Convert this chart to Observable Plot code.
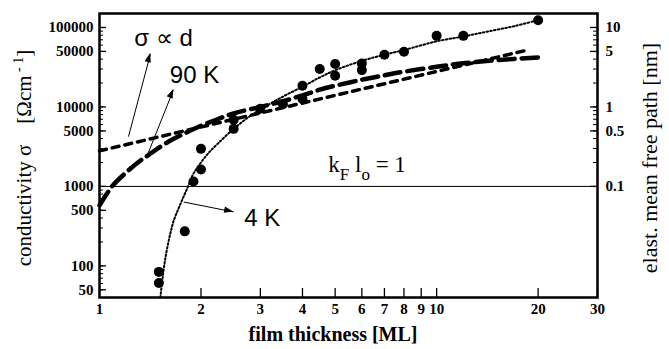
<!DOCTYPE html>
<html><head><meta charset="utf-8">
<script src="https://cdn.jsdelivr.net/npm/d3@7"></script>
<script src="https://cdn.jsdelivr.net/npm/@observablehq/plot@0.6"></script>
<style>
body{margin:0;background:#fff;}
#chart{width:669px;height:349px;}
</style></head><body><div id="chart"></div>
<script>
// 4 K measured points (film thickness [ML], conductivity [Ω^-1 cm^-1])
const dots4K_d = [1.5, 1.5, 1.79, 1.9, 2, 2, 2.5, 2.5, 3, 3.5, 4, 4, 4.5, 5, 5, 6, 6, 7, 8, 10, 12, 20];
const dots4K_s = [84, 61, 272, 1155, 2970, 1630, 5300, 6900, 9500, 10800, 18500, 12600, 30000, 34700, 24700, 35200, 29100, 45300, 49400, 78500, 78500, 123600];
// 4 K fit (dotted)
const fit4K_d = [1.515, 1.55, 1.58, 1.62, 1.66, 1.72, 1.78, 1.84, 1.9, 2.0, 2.1, 2.25, 2.5, 2.75, 3, 3.5, 4, 4.5, 5, 6, 7, 8, 10, 12, 14, 17, 20];
const fit4K_s = [40, 90, 150, 250, 370, 540, 760, 1050, 1450, 2000, 2600, 3500, 5300, 7300, 9300, 13500, 18000, 23500, 29000, 38000, 45500, 52000, 67000, 77000, 88000, 104000, 124000];
// 90 K curve (heavy dashed)
const k90_d = [1, 1.05, 1.1, 1.2, 1.3, 1.4, 1.6, 1.8, 2, 2.2, 2.5, 3, 3.5, 4, 4.5, 5, 6, 7, 8, 10, 12, 15, 20];
const k90_s = [580, 800, 1050, 1500, 2000, 2500, 3650, 4700, 5800, 6800, 8300, 10000, 11800, 14000, 16500, 18500, 22000, 25000, 27800, 32000, 35500, 38800, 42000];
// sigma ∝ d line (short dashes)
const lin_d = [1, 18.6];
const lin_s = [2800, 52000];
// reference level kF lo = 1
const kfLevel = [1000];

// axis ticks
const xTicks = [1, 2, 3, 4, 5, 6, 7, 8, 9, 10, 20, 30];
const yMajor = [50, 100, 500, 1000, 5000, 10000, 50000, 100000];
const yMinor = [40, 50, 60, 70, 80, 90, 100, 200, 300, 400, 500, 600, 700, 800, 900, 1000, 2000, 3000, 4000, 5000, 6000, 7000, 8000, 9000, 10000, 20000, 30000, 40000, 50000, 60000, 70000, 80000, 90000, 100000];
const rMajor = [0.1, 0.5, 1, 5, 10];
const rMinor = [0.1, 0.2, 0.3, 0.4, 0.5, 0.6, 0.7, 0.8, 0.9, 1, 2, 3, 4, 5, 6, 7, 8, 9, 10];
const mfpFactor = 10000; // sigma = mfp[nm] * 10000

// annotations
const annoText = ["σ ∝ d", "90 K", "4 K"];
const annoD = [1.548, 1.913, 3.04];
const annoS = [74100, 24700, 397];
const arrX1 = [1.219, 1.385, 1.778];
const arrY1 = [4240, 2450, 636];
const arrX2 = [1.417, 1.658, 2.50];
const arrY2 = [46700, 16500, 477];
const kfLabelD = 6.24, kfLabelS = 1498;

const W = 669, H = 349, ML = 99, MR = 72, MT = 13, MB = 52;
const FW = W - ML - MR, FH = H - MT - MB;

const dots = dots4K_d.map((d, i) => ({d, s: dots4K_s[i]}));
const fit = fit4K_d.map((d, i) => ({d, s: fit4K_s[i]}));
const k90 = k90_d.map((d, i) => ({d, s: k90_s[i]}));
const lin = lin_d.map((d, i) => ({d, s: lin_s[i]}));
const annos = annoText.map((t, i) => ({t, d: annoD[i], s: annoS[i]}));
const arrows = arrX1.map((x, i) => ({x1: x, y1: arrY1[i], x2: arrX2[i], y2: arrY2[i]}));
const rMinorS = rMinor.map(v => v * mfpFactor);
const rLab = rMajor.map(v => ({s: v * mfpFactor, t: String(v)}));
const rMajorS = rLab.map(o => o.s);
const yLab = yMajor.map(v => ({s: v, t: String(v)}));
const xLab = xTicks.map(v => ({d: v, t: String(v)}));

const tickFont = {fontSize: 15, fontWeight: "bold", fontFamily: "Liberation Serif", fill: "black"};

const plot = Plot.plot({
  width: W, height: H,
  marginLeft: ML, marginRight: MR, marginTop: MT, marginBottom: MB,
  x: {type: "log", domain: [1, 30], axis: null},
  y: {type: "log", domain: [40, 150000], axis: null},
  style: {fontFamily: "Liberation Serif", background: "white", color: "black", overflow: "visible"},
  marks: [
    Plot.ruleY(kfLevel, {stroke: "black", strokeWidth: 1}),
    Plot.tickY(yMinor, {stroke: "black", strokeWidth: 1, insetRight: FW - 4}),
    Plot.tickY(yMajor, {stroke: "black", strokeWidth: 1.3, insetRight: FW - 7}),
    Plot.tickY(rMinorS, {stroke: "black", strokeWidth: 1, insetLeft: FW - 4}),
    Plot.tickY(rMajorS, {stroke: "black", strokeWidth: 1.3, insetLeft: FW - 7}),
    Plot.tickX(xTicks, {stroke: "black", strokeWidth: 1.3, insetTop: FH - 9}),
    Plot.text(xLab, {x: "d", text: "t", frameAnchor: "bottom", dy: 16, ...tickFont}),
    Plot.text(yLab, {y: "s", text: "t", frameAnchor: "left", textAnchor: "end", dx: -6, ...tickFont}),
    Plot.text(rLab, {y: "s", text: "t", frameAnchor: "right", textAnchor: "start", dx: 8, ...tickFont}),
    Plot.line(lin, {x: "d", y: "s", stroke: "black", strokeWidth: 3.5, strokeDasharray: "7,6"}),
    Plot.line(k90, {x: "d", y: "s", stroke: "black", strokeWidth: 4.5, strokeDasharray: "16,7", curve: "catmull-rom"}),
    Plot.line(fit, {x: "d", y: "s", stroke: "black", strokeWidth: 2, strokeDasharray: "1.6,2.2", curve: "catmull-rom"}),
    Plot.dot(dots, {x: "d", y: "s", r: 5, fill: "black", stroke: "none"}),
    Plot.link(arrows, {x1: "x1", y1: "y1", x2: "x2", y2: "y2", stroke: "black", strokeWidth: 1}),
    Plot.text(annos, {x: "d", y: "s", text: "t", fontSize: 24, fontFamily: "Liberation Sans", fill: "black"}),
    Plot.frame({stroke: "black", strokeWidth: 2.5})
  ]
});
document.getElementById("chart").appendChild(plot);

const svg = d3.select(plot);
const sx = plot.scale("x"), sy = plot.scale("y");

// filled arrow heads, placed through the plot's scales
arrows.forEach(a => {
  const x1 = sx.apply(a.x1), y1 = sy.apply(a.y1), x2 = sx.apply(a.x2), y2 = sy.apply(a.y2);
  const ang = Math.atan2(y2 - y1, x2 - x1);
  const L = 9, hw = 3.2;
  const bx = x2 - L * Math.cos(ang), by = y2 - L * Math.sin(ang);
  const px = -Math.sin(ang) * hw, py = Math.cos(ang) * hw;
  svg.append("polygon")
    .attr("points", `${x2},${y2} ${bx + px},${by + py} ${bx - px},${by - py}`)
    .attr("fill", "black");
});

// kF lo = 1 label
const kf = svg.append("text")
  .attr("x", sx.apply(kfLabelD)).attr("y", sy.apply(kfLabelS))
  .attr("font-family", "Liberation Serif").attr("font-size", 23).attr("fill", "black");
kf.append("tspan").text("k");
kf.append("tspan").attr("dy", 8).attr("font-size", 17).text("F");
kf.append("tspan").attr("dy", -8).text(" l");
kf.append("tspan").attr("dy", 8).attr("font-size", 17).text("o");
kf.append("tspan").attr("dy", -8).text(" = 1");

// left axis label
const yl = svg.append("text")
  .attr("transform", "translate(31,158) rotate(-90)")
  .attr("text-anchor", "middle")
  .attr("font-family", "Liberation Serif").attr("font-size", 21).attr("fill", "black");
yl.append("tspan").text("conductivity σ    [Ωcm");
yl.append("tspan").attr("dy", -8).attr("font-size", 14).text(" - 1");
yl.append("tspan").attr("dy", 8).text("]");

// right axis label
svg.append("text")
  .attr("transform", "translate(657,158) rotate(-90)")
  .attr("text-anchor", "middle")
  .attr("font-family", "Liberation Serif").attr("font-size", 22).attr("fill", "black")
  .text("elast. mean free path [nm]");

// x axis label
svg.append("text")
  .attr("x", ML + FW * 0.47).attr("y", 341)
  .attr("text-anchor", "middle")
  .attr("font-family", "Liberation Serif").attr("font-weight", "bold").attr("font-size", 20).attr("fill", "black")
  .text("film thickness [ML]");
</script>
</body></html>
